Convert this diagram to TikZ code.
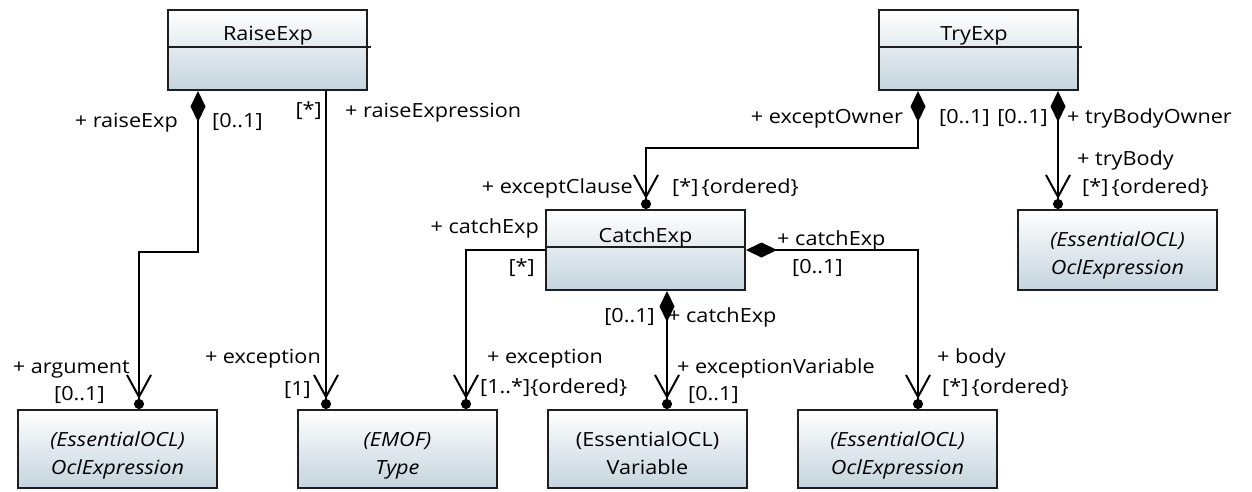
\documentclass[tikz,border=0pt]{standalone}
\usepackage{fontspec}
\setmainfont{Open Sans}[FakeStretch=1.11]
\usetikzlibrary{arrows.meta}
\definecolor{boxbot}{RGB}{196,212,222}
\definecolor{edge}{RGB}{30,30,30}
\begin{document}
\begin{tikzpicture}[x=1pt,y=-1pt,
  cls/.style={draw=edge, line width=2pt, top color=white, bottom color=boxbot,
    minimum width=199pt, minimum height=80pt, inner sep=0pt},
  refbox/.style={cls, minimum height=78pt},
  lab/.style={inner sep=0pt, font=\fontsize{19.5}{24}\selectfont, text height=14pt, text depth=4pt},
  itlab/.style={lab, font=\fontsize{19.5}{24}\selectfont\itshape},
  sepline/.style={draw=edge, line width=2pt},
  conn/.style={draw=black, line width=2pt},
  navend/.style={conn, -{Straight Barb[length=22pt,width=24pt]Circle[length=10pt]}},
  compnav/.style={conn, {Diamond[length=31pt,width=15pt]}-{Straight Barb[length=22pt,width=24pt]Circle[length=10pt]}}
]
\useasboundingbox (0,0) rectangle (1252,491);

% class boxes
\node[cls] (raise) at (267.5,50) {};
\node[cls] (try) at (978,50) {};
\node[cls] (catch) at (645.5,250) {};
\node[refbox] (oclA) at (117.5,449) {};
\node[refbox] (type) at (397.5,449) {};
\node[refbox] (var) at (647.5,449) {};
\node[refbox] (oclB) at (897.5,449) {};
\node[cls] (oclC) at (1117.5,250) {};

% compartments
\draw[sepline] ([yshift=-38pt,xshift=2pt]raise.north west) -- ([yshift=-38pt,xshift=3pt]raise.north east);
\draw[sepline] ([yshift=-38pt,xshift=2pt]try.north west) -- ([yshift=-38pt,xshift=3pt]try.north east);
\draw[sepline] ([yshift=-38pt]catch.north west) -- ([yshift=-38pt]catch.north east);

% names
\node[lab] (raiseT) at (268,35) {RaiseExp};
\node[lab] (tryT) at (974,35) {TryExp};
\node[lab] (catchT) at (645.5,237) {CatchExp};

\node[itlab] (oclA1) at (117.5,441) {(EssentialOCL)};
\node[itlab] (oclA2) at (117.5,469) {OclExpression};
\node[itlab] (type1) at (397.5,441) {(EMOF)};
\node[itlab] (type2) at (397.5,469) {Type};
\node[lab] (var1) at (647.5,441) {(EssentialOCL)};
\node[lab] (var2) at (647.5,469) {Variable};
\node[itlab] (oclB1) at (897.5,441) {(EssentialOCL)};
\node[itlab] (oclB2) at (897.5,469) {OclExpression};
\node[itlab] (oclC1) at (1117.5,241) {(EssentialOCL)};
\node[itlab] (oclC2) at (1117.5,269) {OclExpression};

% bend coordinates
\coordinate (r1) at (198,252);
\coordinate (r2) at (139,252);
\coordinate (t1) at (326,250);
\coordinate (c1) at (466,250);
\coordinate (c2) at (667,350);
\coordinate (c3) at (918,250);
\coordinate (e1) at (918,148);
\coordinate (e2) at (646,148);
\coordinate (e3) at (1058,150);

% connectors
\draw[compnav] (raise.south -| r1) -- (r1) -- (r2) -- (r2 |- oclA.north);
\draw[navend] (raise.south -| t1) -- (t1 |- type.north);
\draw[navend] (catch.west) -- (c1) -- (c1 |- type.north);
\draw[compnav] (catch.south -| c2) -- (c2 |- var.north);
\draw[compnav] (catch.east) -- (c3) -- (c3 |- oclB.north);
\draw[compnav] (try.south -| e1) -- (e1) -- (e2) -- (e2 |- catch.north);
\draw[compnav] (try.south -| e3) -- (e3 |- oclC.north);

% labels
\node[lab, anchor=east] (l1) at (178,122) {+ raiseExp};
\node[lab, anchor=west] (l2) at (212,122) {[0..1]};
\node[lab, anchor=east] (l3) at (322,111) {[*]};
\node[lab, anchor=west] (l4) at (345,112) {+ raiseExpression};
\node[lab, anchor=east] (l5) at (130,368) {+ argument};
\node[lab, anchor=west] (l6) at (54,395) {[0..1]};
\node[lab, anchor=east] (l7) at (321,358) {+ exception};
\node[lab, anchor=east] (l8) at (311,390) {[1]};
\node[lab, anchor=east] (l9) at (539,228) {+ catchExp};
\node[lab, anchor=east] (l10) at (535,268) {[*]};
\node[lab, anchor=west] (l11) at (487,358) {+ exception};
\node[lab, anchor=west] (l12) at (480,388) {[1..*]\{ordered\}};
\node[lab, anchor=east] (l13) at (655,317) {[0..1]};
\node[lab, anchor=west] (l14) at (668,317) {+ catchExp};
\node[lab, anchor=west] (l15) at (677,368) {+ exceptionVariable};
\node[lab, anchor=west] (l16) at (688,395) {[0..1]};
\node[lab, anchor=west] (l17) at (777,240) {+ catchExp};
\node[lab, anchor=west] (l18) at (792,268) {[0..1]};
\node[lab, anchor=west] (l19) at (937,358) {+ body};
\node[lab, anchor=west] (l20) at (942,388) {[*]\,\{ordered\}};
\node[lab, anchor=east] (l21) at (903,118) {+ exceptOwner};
\node[lab, anchor=west] (l22) at (939,118) {[0..1]};
\node[lab, anchor=east] (l23) at (633,188) {+ exceptClause};
\node[lab, anchor=west] (l24) at (672,188) {[*]\,\{ordered\}};
\node[lab, anchor=east] (l25) at (1048,118) {[0..1]};
\node[lab, anchor=west] (l26) at (1067,118) {+ tryBodyOwner};
\node[lab, anchor=west] (l27) at (1077,160) {+ tryBody};
\node[lab, anchor=west] (l28) at (1082,188) {[*]\,\{ordered\}};
\end{tikzpicture}
\end{document}
